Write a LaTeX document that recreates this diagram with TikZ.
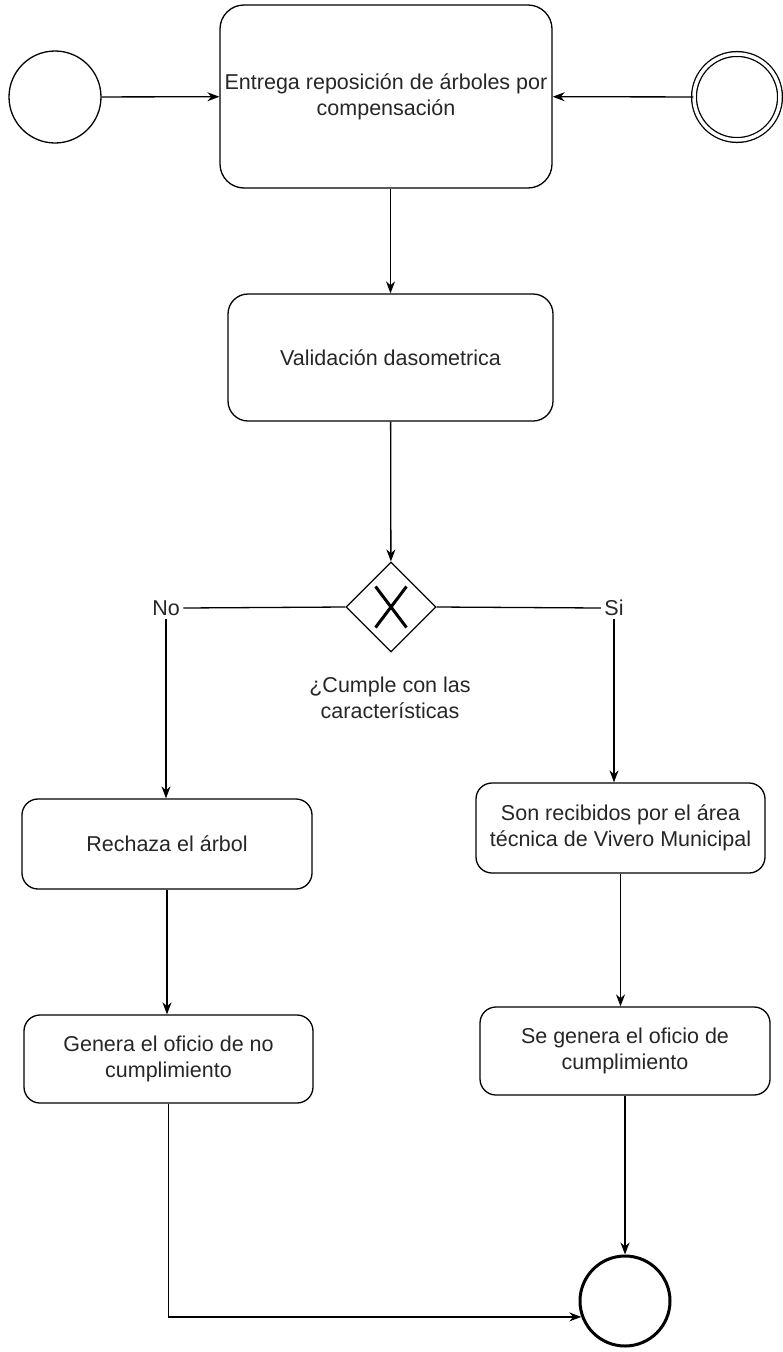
\documentclass[tikz,border=0pt]{standalone}
\usepackage{fontspec}
\setmainfont{Liberation Sans}
\usepackage{tikz}
\usetikzlibrary{shapes.geometric, shapes.misc, arrows.meta, positioning}

\begin{document}
\begin{tikzpicture}[
    x=1pt, y=-1pt,
    every node/.style={font=\fontsize{21.5}{26}\selectfont, text=black!85},
    line/.style={line width=1.3pt},
    flow/.style={line, -{Stealth[length=12pt, width=9pt]}},
    task/.style={draw, line width=1.3pt, rounded corners=16pt, align=center, inner sep=0pt},
    event/.style={draw, circle, line width=1.3pt, minimum size=92pt, inner sep=0pt},
    gateway/.style={draw, diamond, line width=1.3pt, minimum size=90pt, inner sep=0pt}
]
    \useasboundingbox (0,0) rectangle (783,1352);

    % top row
    \node[event] (inicio) at (55,97) {};
    \node[task, minimum width=332pt, minimum height=183pt, rounded corners=24pt] (entrega) at (386,96.5)
        {Entrega reposición de árboles por\\compensación};
    \node[event, minimum size=86pt, double, double distance=3.5pt] (externo) at (737,97) {};

    \node[task, minimum width=325pt, minimum height=127pt, rounded corners=20pt] (validacion) at (390.5,357.5)
        {Validación dasometrica};

    % gateway
    \node[gateway] (decision) at (391,607) {};
    \node[draw, cross out, line width=3pt, minimum width=28pt, minimum height=38pt] at (decision) {};
    \node (no) at (166,608) {No};
    \node (si) at (614,608) {Si};
    \node[align=center] (cumple) at (390,698) {¿Cumple con las\\características};

    % branches
    \node[task, minimum width=290pt, minimum height=90pt] (rechaza) at (167,844) {Rechaza el árbol};
    \node[task, minimum width=289pt, minimum height=90pt] (recibidos) at (620.5,828)
        {Son recibidos por el área\\técnica de Vivero Municipal};
    \node[task, minimum width=289pt, minimum height=88pt] (genera) at (168.5,1059)
        {Genera el oficio de no\\cumplimiento};
    \node[task, minimum width=290pt, minimum height=88pt] (segenera) at (625,1051)
        {Se genera el oficio de\\cumplimiento};

    \node[event, minimum size=90pt, line width=3pt] (fin) at (625,1301) {};

    % connectors
    \draw[flow] (inicio) -- (entrega);
    \draw[flow] (externo) -- (entrega);
    \draw[flow] (entrega.south -| validacion.north) -- (validacion.north);
    \draw[flow] (validacion) -- (decision);
    \draw[line] (decision.west) -- (no.east);
    \draw[line] (decision.east) -- (si.west);
    \draw[flow] (no.south) -- (no.south |- rechaza.north);
    \draw[flow] (si.south) -- (si.south |- recibidos.north);
    \draw[flow] (rechaza) -- (rechaza |- genera.north);
    \draw[flow] (recibidos.south) -- (recibidos.south |- segenera.north);
    \draw[flow] (segenera) -- (fin);
    \draw[flow] (genera.south) |- (fin.200);
\end{tikzpicture}
\end{document}
